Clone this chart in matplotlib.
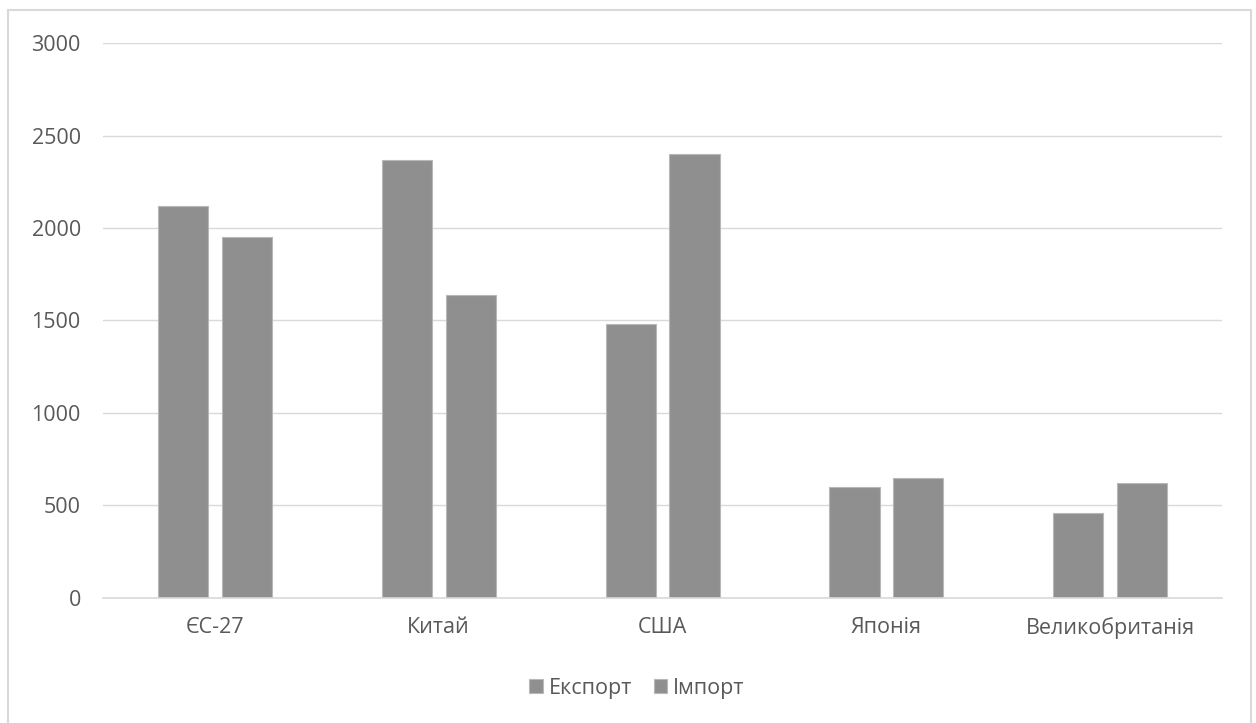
import matplotlib.pyplot as plt
import numpy as np
from matplotlib.patches import Rectangle

categories = ['ЄС-27', 'Китай', 'США', 'Японія', 'Великобританія']
export_vals = [2120, 2365, 1480, 600, 460]
import_vals = [1950, 1635, 2400, 650, 620]
yticks = [0, 500, 1000, 1500, 2000, 2500, 3000]

plt.rcParams['font.family'] = ['Open Sans', 'DejaVu Sans']

fig = plt.figure(figsize=(12.56, 7.23), dpi=100)
ax = fig.add_axes([0.082, 0.173, 0.891, 0.7675])

x = np.arange(len(categories))
w = 0.224
off = 0.1425
bar_col = '#8f8f8f'
ax.bar(x - off, export_vals, width=w, color=bar_col, edgecolor='#b8b8b8', linewidth=0.8, label='Експорт', zorder=3)
ax.bar(x + off, import_vals, width=w, color=bar_col, edgecolor='#b8b8b8', linewidth=0.8, label='Імпорт', zorder=3)

ax.set_xlim(-0.5, len(categories) - 0.5)
ax.set_ylim(0, 3000)
ax.set_yticks(yticks)
ax.set_xticks(x)
ax.set_xticklabels(categories)
ax.grid(axis='y', color='#d9d9d9', linewidth=1, zorder=0)
ax.axhline(0, color='#d9d9d9', linewidth=1.2, zorder=4, clip_on=False)
for s in ax.spines.values():
    s.set_visible(False)
ax.tick_params(axis='both', length=0, labelsize=15.5, labelcolor='#595959')
ax.tick_params(axis='y', pad=16)
ax.tick_params(axis='x', pad=14)

leg = ax.legend(loc='center', bbox_to_anchor=(0.477, -0.163), ncol=2, frameon=False,
                fontsize=15.5, handlelength=0.65, handleheight=0.65, handletextpad=0.25,
                columnspacing=1.0)
for t in leg.get_texts():
    t.set_color('#595959')

fig.patches.append(Rectangle((0.0064, -0.05), 0.9896, 1.036, transform=fig.transFigure,
                             fill=False, edgecolor='#d9d9d9', linewidth=1.5))

plt.savefig('out.png', dpi=100)
